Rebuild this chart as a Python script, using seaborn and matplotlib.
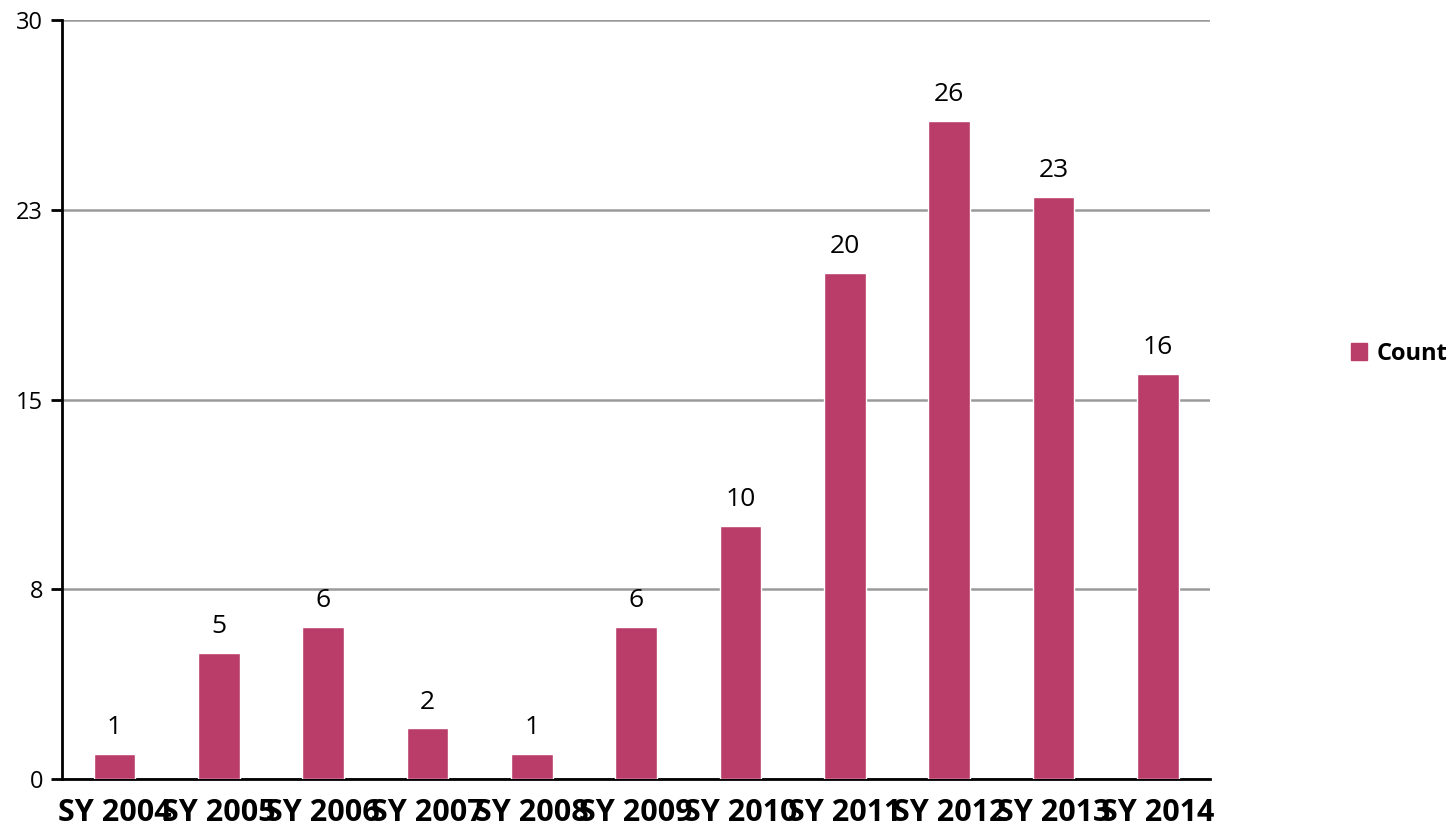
import matplotlib
matplotlib.use("Agg")
import matplotlib.pyplot as plt
import seaborn as sns
import pandas as pd
from matplotlib.patches import Patch

years = ["SY 2004", "SY 2005", "SY 2006", "SY 2007", "SY 2008", "SY 2009",
         "SY 2010", "SY 2011", "SY 2012", "SY 2013", "SY 2014"]
counts = [1, 5, 6, 2, 1, 6, 10, 20, 26, 23, 16]
yticks = [0, 7.5, 15, 22.5, 30]
ytick_labels = ["0", "8", "15", "23", "30"]

bar_color = "#BA3D69"

sns.set_style("white")
plt.rcParams['font.family'] = ['Open Sans', 'DejaVu Sans']
plt.rcParams['text.color'] = 'black'
plt.rcParams['xtick.color'] = 'black'
plt.rcParams['ytick.color'] = 'black'

df = pd.DataFrame({"year": years, "count": counts})

fig, ax = plt.subplots(figsize=(14.51, 8.35), dpi=100)
fig.subplots_adjust(left=0.043, right=0.834, top=0.976, bottom=0.067)

sns.barplot(data=df, x="year", y="count", color=bar_color, width=0.4,
            saturation=1, ax=ax, zorder=3)

ax.set_xlim(-0.5, len(years) - 0.5)
ax.set_ylim(0, 30)
ax.set_yticks(yticks)
ax.set_yticklabels(ytick_labels, fontsize=17)
ax.yaxis.grid(True, color="#9A9A9A", linewidth=1.8, zorder=0)
ax.set_axisbelow(True)

# labels at category centres, tick marks at the boundaries
ax.set_xticks(range(len(years)))
ax.set_xticklabels(years, fontsize=22, fontweight="bold")
ax.tick_params(axis="x", which="major", length=0, pad=14)
ax.set_xticks([i - 0.5 for i in range(len(years) + 1)], minor=True)
ax.tick_params(axis="x", which="minor", length=9, width=2, color="black")
ax.tick_params(axis="y", length=8, width=2, color="black", pad=6, left=True)

for s in ["top", "right"]:
    ax.spines[s].set_visible(False)
for s in ["left", "bottom"]:
    ax.spines[s].set_color("black")
    ax.spines[s].set_linewidth(2)

ax.set_xlabel("")
ax.set_ylabel("")

for i, v in enumerate(counts):
    ax.annotate(str(v), (i, v), xytext=(0, 10), textcoords="offset points",
                ha="center", va="bottom", fontsize=19)

ax.legend(handles=[Patch(color=bar_color, label="Count")], loc="center left",
          bbox_to_anchor=(1.104, 0.56), frameon=False, handlelength=0.7,
          handleheight=0.7, handletextpad=0.4,
          prop={"size": 17, "weight": "bold"})

fig.savefig("out.png", dpi=100)
